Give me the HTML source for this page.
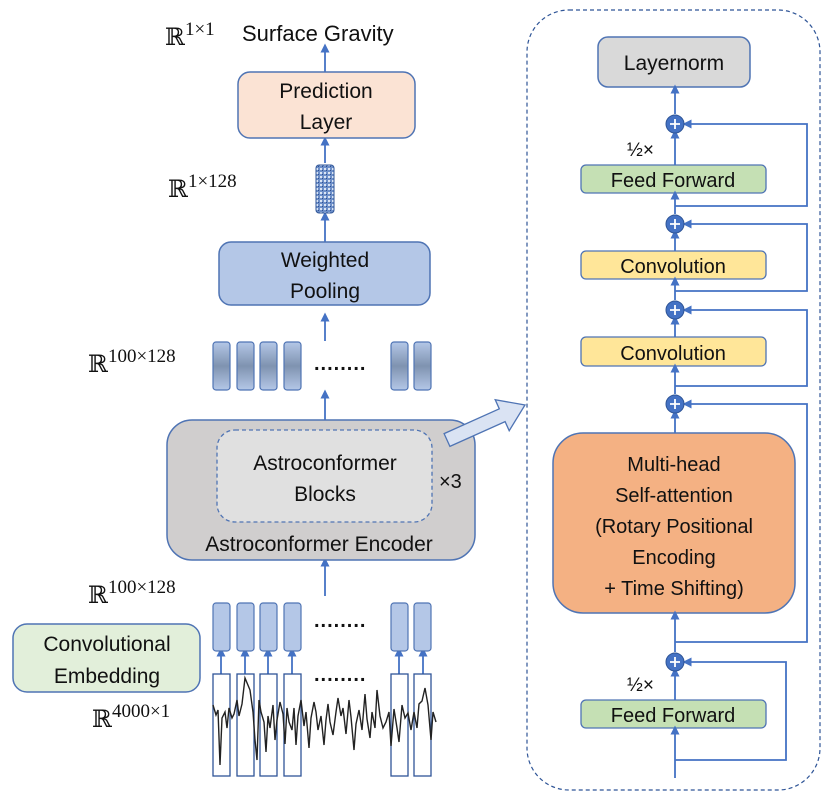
<!DOCTYPE html>
<html><head><meta charset="utf-8"><style>
html,body{margin:0;padding:0;background:#fff;}
svg{display:block;}
text{font-family:"Liberation Sans","DejaVu Sans",sans-serif;fill:#111;}
.m{font-family:"Liberation Serif","DejaVu Serif",serif;}
</style></head><body>
<svg width="831" height="800" viewBox="0 0 831 800" xmlns="http://www.w3.org/2000/svg">
<defs>
<marker id="a" viewBox="0 0 10 10" refX="5" refY="5" markerWidth="5" markerHeight="5" orient="auto"><path d="M0,0L10,5L0,10z" fill="#4472c4"/></marker>
<linearGradient id="g" x1="0" y1="0" x2="0" y2="1"><stop offset="0" stop-color="#b4c7e7"/><stop offset="0.5" stop-color="#7f93b0"/><stop offset="1" stop-color="#b4c7e7"/></linearGradient>
<pattern id="p" width="4" height="4" patternUnits="userSpaceOnUse"><rect width="4" height="4" fill="#6d8fc9"/><rect width="2" height="2" fill="#dbe5f5"/><rect x="2" y="2" width="1" height="1" fill="#2f4f8f"/></pattern>
</defs>
<g stroke="#4472c4" stroke-width="1.8" fill="none" marker-end="url(#a)">
<line x1="325" y1="72" x2="325" y2="48"/>
<line x1="325" y1="163" x2="325" y2="141"/>
<line x1="325" y1="242" x2="325" y2="216"/>
<line x1="325" y1="341" x2="325" y2="317"/>
<line x1="325" y1="420" x2="325" y2="394"/>
<line x1="325" y1="596" x2="325" y2="562"/>
<line x1="221" y1="674" x2="221" y2="652"/><line x1="245" y1="674" x2="245" y2="652"/><line x1="268" y1="674" x2="268" y2="652"/><line x1="292" y1="674" x2="292" y2="652"/><line x1="399" y1="674" x2="399" y2="652"/><line x1="423" y1="674" x2="423" y2="652"/>
</g>
<text x="165" y="45" font-size="24" class="m">ℝ<tspan dy="-10" font-size="19">1×1</tspan></text>
<text x="242" y="41" font-size="22">Surface Gravity</text>
<rect x="238" y="72" width="177" height="66" rx="12" fill="#fbe3d4" stroke="#4f74b4" stroke-width="1.5"/>
<text x="326" y="98" font-size="21" text-anchor="middle">Prediction</text>
<text x="326" y="129" font-size="21" text-anchor="middle">Layer</text>
<rect x="316" y="165" width="18" height="48" rx="3" fill="url(#p)" stroke="#2f5597" stroke-width="1"/>
<text x="168" y="197" font-size="24" class="m">ℝ<tspan dy="-10" font-size="19">1×128</tspan></text>
<rect x="219" y="242" width="211" height="63" rx="12" fill="#b4c7e7" stroke="#4f74b4" stroke-width="1.5"/>
<text x="325" y="267" font-size="21" text-anchor="middle">Weighted</text>
<text x="325" y="298" font-size="21" text-anchor="middle">Pooling</text>
<text x="88" y="372" font-size="24" class="m">ℝ<tspan dy="-10" font-size="19">100×128</tspan></text>
<g fill="url(#g)" stroke="#4f74b4" stroke-width="1.2">
<rect x="213" y="342" width="17" height="48" rx="3"/><rect x="237" y="342" width="17" height="48" rx="3"/><rect x="260" y="342" width="17" height="48" rx="3"/><rect x="284" y="342" width="17" height="48" rx="3"/><rect x="391" y="342" width="17" height="48" rx="3"/><rect x="414" y="342" width="17" height="48" rx="3"/>
</g>
<text x="314" y="370" font-size="20" font-weight="bold" letter-spacing="1">........</text>
<rect x="167" y="420" width="308" height="140" rx="25" fill="#d0cece" stroke="#4f74b4" stroke-width="1.5"/>
<rect x="217" y="430" width="215" height="92" rx="18" fill="#e0e0e0" stroke="#4f74b4" stroke-width="1.3" stroke-dasharray="4,3"/>
<text x="325" y="470" font-size="21" text-anchor="middle">Astroconformer</text>
<text x="325" y="501" font-size="21" text-anchor="middle">Blocks</text>
<text x="439" y="488" font-size="20">×3</text>
<text x="319" y="551" font-size="21" text-anchor="middle">Astroconformer Encoder</text>
<path d="M449.9,446.4 L505.1,421.6 L509.2,430.7 L525,405 L495.2,399.7 L499.3,408.8 L444.1,433.6z" fill="#dae3f3" stroke="#4f74b4" stroke-width="1.3"/>
<text x="88" y="603" font-size="24" class="m">ℝ<tspan dy="-10" font-size="19">100×128</tspan></text>
<g fill="#b4c7e7" stroke="#4f74b4" stroke-width="1.2">
<rect x="213" y="603" width="17" height="48" rx="3"/><rect x="237" y="603" width="17" height="48" rx="3"/><rect x="260" y="603" width="17" height="48" rx="3"/><rect x="284" y="603" width="17" height="48" rx="3"/><rect x="391" y="603" width="17" height="48" rx="3"/><rect x="414" y="603" width="17" height="48" rx="3"/>
</g>
<text x="314" y="627" font-size="20" font-weight="bold" letter-spacing="1">........</text>
<text x="314" y="681" font-size="20" font-weight="bold" letter-spacing="1">........</text>
<rect x="13" y="624" width="187" height="68" rx="14" fill="#e2efda" stroke="#4f74b4" stroke-width="1.5"/>
<text x="107" y="651" font-size="21" text-anchor="middle">Convolutional</text>
<text x="107" y="683" font-size="21" text-anchor="middle">Embedding</text>
<text x="92" y="727" font-size="24" class="m">ℝ<tspan dy="-10" font-size="19">4000×1</tspan></text>
<g fill="none" stroke="#2f5597" stroke-width="1.3">
<rect x="213" y="674" width="17" height="102"/><rect x="237" y="674" width="17" height="102"/><rect x="260" y="674" width="17" height="102"/><rect x="284" y="674" width="17" height="102"/><rect x="391" y="674" width="17" height="102"/><rect x="414" y="674" width="17" height="102"/>
</g>
<polyline fill="none" stroke="#222" stroke-width="1.4" points="213,705 216,715 218,710 220,765 222,718 225,712 227,728 229,708 232,718 234,714 237,700 239,716 242,704 245,678 250,690 253,712 255,740 257,760 259,700 261,712 264,722 266,752 268,716 270,728 273,705 275,740 277,720 280,702 283,714 285,744 287,708 289,722 292,730 294,708 296,745 298,716 301,700 304,726 306,712 309,748 311,718 314,702 316,712 318,730 321,716 324,745 326,720 328,704 330,722 333,735 336,712 338,698 341,716 343,708 346,734 349,700 351,717 354,750 356,724 359,710 362,730 365,694 367,719 370,738 372,712 375,728 377,690 380,716 383,728 386,722 389,712 391,746 394,709 397,728 399,742 402,705 405,718 408,713 411,730 414,712 417,728 419,704 422,701 425,688 428,705 431,740 433,712 436,722"/>
<!-- right panel -->
<rect x="527" y="10" width="293" height="780" rx="42" fill="none" stroke="#2f5597" stroke-width="1.2" stroke-dasharray="4,3"/>
<rect x="598" y="37" width="152" height="50" rx="10" fill="#d9d9d9" stroke="#4f74b4" stroke-width="1.5"/>
<text x="674" y="70" font-size="21" text-anchor="middle">Layernorm</text>
<rect x="581" y="165" width="185" height="28" rx="5" fill="#c5e0b4" stroke="#4f74b4" stroke-width="1.3"/>
<text x="673" y="187" font-size="20" text-anchor="middle">Feed Forward</text>
<rect x="581" y="251" width="185" height="28" rx="5" fill="#ffe699" stroke="#4f74b4" stroke-width="1.3"/>
<text x="673" y="273" font-size="20" text-anchor="middle">Convolution</text>
<rect x="581" y="337" width="185" height="29" rx="5" fill="#ffe699" stroke="#4f74b4" stroke-width="1.3"/>
<text x="673" y="360" font-size="20" text-anchor="middle">Convolution</text>
<rect x="553" y="433" width="242" height="180" rx="30" fill="#f4b183" stroke="#4f74b4" stroke-width="1.5"/>
<g font-size="20" text-anchor="middle"><text x="674" y="471">Multi-head</text><text x="674" y="502">Self-attention</text><text x="674" y="533">(Rotary Positional</text><text x="674" y="564">Encoding</text><text x="674" y="595">+ Time Shifting)</text></g>
<rect x="581" y="700" width="185" height="28" rx="5" fill="#c5e0b4" stroke="#4f74b4" stroke-width="1.3"/>
<text x="673" y="722" font-size="20" text-anchor="middle">Feed Forward</text>
<text x="627" y="156" font-size="19">½×</text>
<text x="627" y="691" font-size="19">½×</text>
<g stroke="#4472c4" stroke-width="1.8" fill="none">
<polyline points="675,206 807,206 807,124 687,124" marker-end="url(#a)"/>
<polyline points="675,291 807,291 807,224 687,224" marker-end="url(#a)"/>
<polyline points="675,386 807,386 807,310 687,310" marker-end="url(#a)"/>
<polyline points="675,642 807,642 807,404 687,404" marker-end="url(#a)"/>
<polyline points="675,760 786,760 786,662 687,662" marker-end="url(#a)"/>
<line x1="675" y1="114" x2="675" y2="89" marker-end="url(#a)"/>
<line x1="675" y1="165" x2="675" y2="134" marker-end="url(#a)"/>
<line x1="675" y1="214" x2="675" y2="195" marker-end="url(#a)"/>
<line x1="675" y1="251" x2="675" y2="234" marker-end="url(#a)"/>
<line x1="675" y1="300" x2="675" y2="281" marker-end="url(#a)"/>
<line x1="675" y1="337" x2="675" y2="320" marker-end="url(#a)"/>
<line x1="675" y1="394" x2="675" y2="368" marker-end="url(#a)"/>
<line x1="675" y1="433" x2="675" y2="414" marker-end="url(#a)"/>
<line x1="675" y1="652" x2="675" y2="615" marker-end="url(#a)"/>
<line x1="675" y1="700" x2="675" y2="672" marker-end="url(#a)"/>
<line x1="675" y1="778" x2="675" y2="730" marker-end="url(#a)"/>
</g>
<g fill="#4472c4" stroke="#2f5597" stroke-width="1">
<circle cx="675" cy="124" r="9"/><circle cx="675" cy="224" r="9"/><circle cx="675" cy="310" r="9"/><circle cx="675" cy="404" r="9"/><circle cx="675" cy="662" r="9"/>
</g>
<g stroke="#fff" stroke-width="1.8">
<path d="M670,124h10M675,119v10M670,224h10M675,219v10M670,310h10M675,305v10M670,404h10M675,399v10M670,662h10M675,657v10"/>
</g>
</svg>
</body></html>
